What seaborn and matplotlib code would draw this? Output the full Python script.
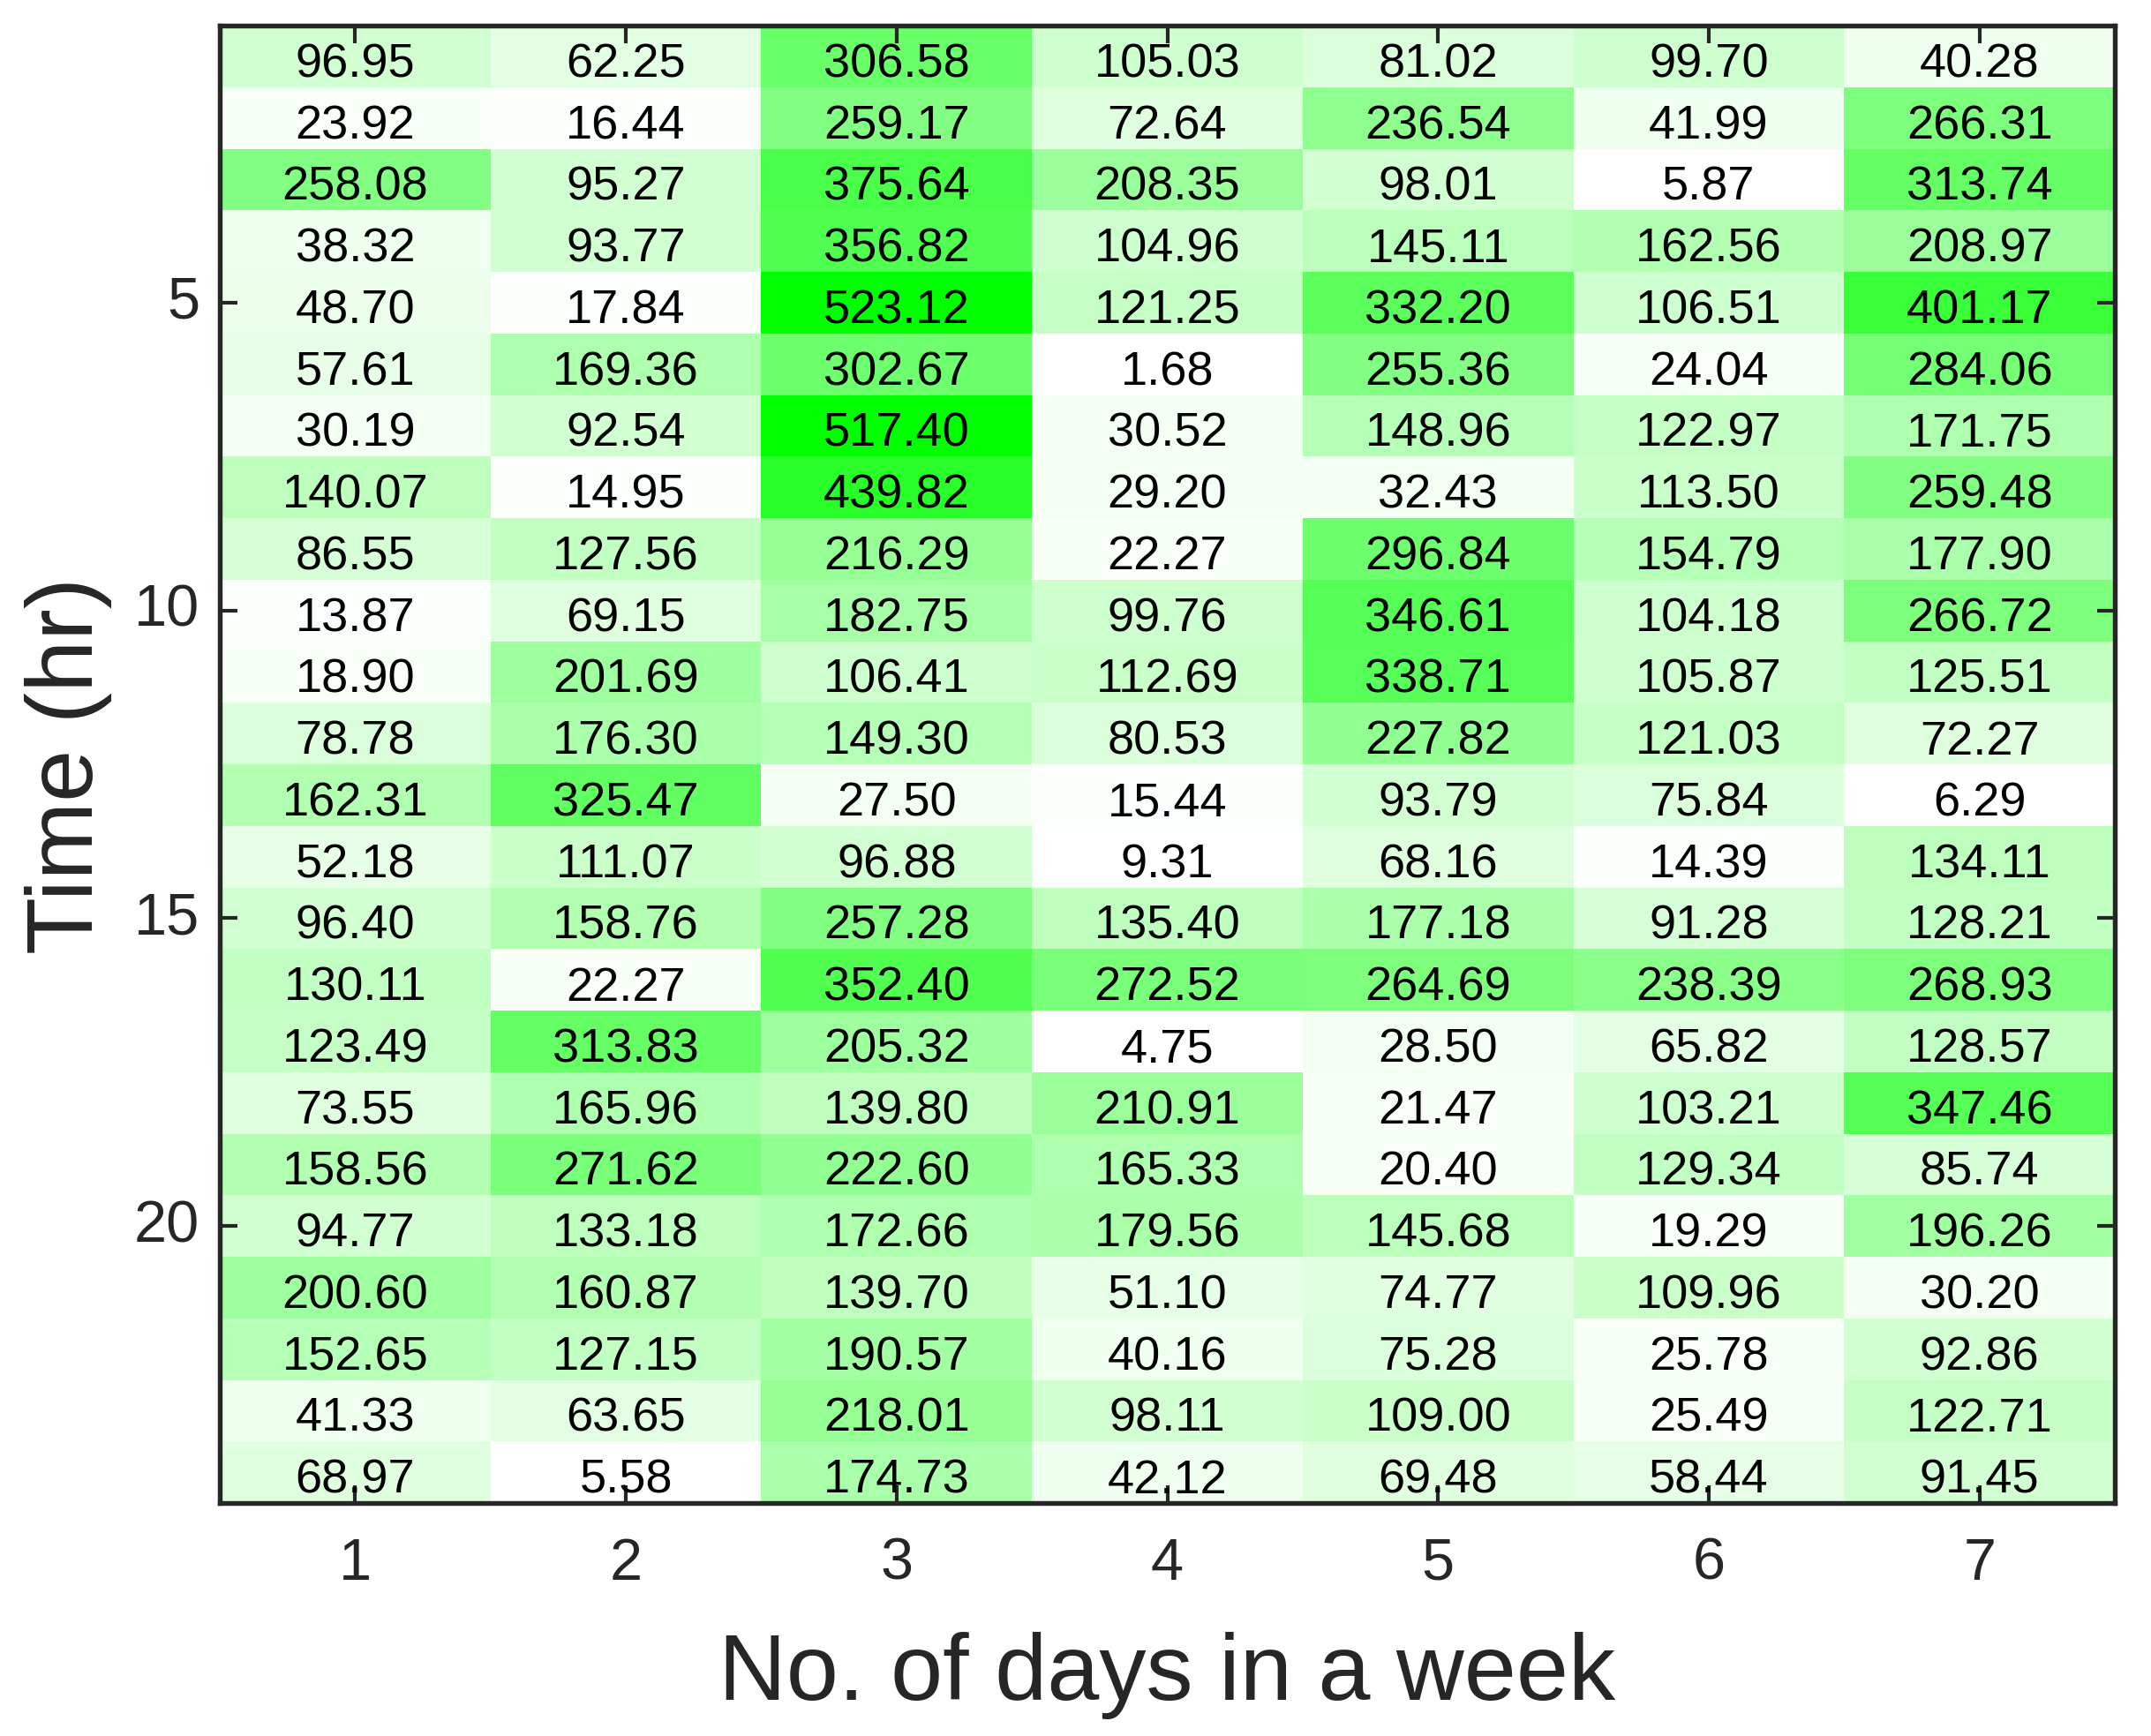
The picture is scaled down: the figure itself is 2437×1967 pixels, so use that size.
import numpy as np
import pandas as pd
import matplotlib
matplotlib.use("Agg")
import matplotlib.pyplot as plt
import matplotlib.transforms as mtransforms
import seaborn as sns
from matplotlib.colors import LinearSegmentedColormap

days = [1, 2, 3, 4, 5, 6, 7]
hours = list(range(1, 25))
ytick_hours = [5, 10, 15, 20]

day1 = [96.95, 23.92, 258.08, 38.32, 48.70, 57.61, 30.19, 140.07, 86.55, 13.87, 18.90, 78.78,
        162.31, 52.18, 96.40, 130.11, 123.49, 73.55, 158.56, 94.77, 200.60, 152.65, 41.33, 68.97]
day2 = [62.25, 16.44, 95.27, 93.77, 17.84, 169.36, 92.54, 14.95, 127.56, 69.15, 201.69, 176.30,
        325.47, 111.07, 158.76, 22.27, 313.83, 165.96, 271.62, 133.18, 160.87, 127.15, 63.65, 5.58]
day3 = [306.58, 259.17, 375.64, 356.82, 523.12, 302.67, 517.40, 439.82, 216.29, 182.75, 106.41, 149.30,
        27.50, 96.88, 257.28, 352.40, 205.32, 139.80, 222.60, 172.66, 139.70, 190.57, 218.01, 174.73]
day4 = [105.03, 72.64, 208.35, 104.96, 121.25, 1.68, 30.52, 29.20, 22.27, 99.76, 112.69, 80.53,
        15.44, 9.31, 135.40, 272.52, 4.75, 210.91, 165.33, 179.56, 51.10, 40.16, 98.11, 42.12]
day5 = [81.02, 236.54, 98.01, 145.11, 332.20, 255.36, 148.96, 32.43, 296.84, 346.61, 338.71, 227.82,
        93.79, 68.16, 177.18, 264.69, 28.50, 21.47, 20.40, 145.68, 74.77, 75.28, 109.00, 69.48]
day6 = [99.70, 41.99, 5.87, 162.56, 106.51, 24.04, 122.97, 113.50, 154.79, 104.18, 105.87, 121.03,
        75.84, 14.39, 91.28, 238.39, 65.82, 103.21, 129.34, 19.29, 109.96, 25.78, 25.49, 58.44]
day7 = [40.28, 266.31, 313.74, 208.97, 401.17, 284.06, 171.75, 259.48, 177.90, 266.72, 125.51, 72.27,
        6.29, 134.11, 128.21, 268.93, 128.57, 347.46, 85.74, 196.26, 30.20, 92.86, 122.71, 91.45]

df = pd.DataFrame({1: day1, 2: day2, 3: day3, 4: day4, 5: day5, 6: day6, 7: day7}, index=hours)

plt.rcParams['font.family'] = ['Liberation Sans', 'DejaVu Sans']
dark = '#262626'

cmap = LinearSegmentedColormap.from_list('wg', ['#FFFFFF', '#00FF00'], N=64)

fig = plt.figure(figsize=(2437 / 300, 1968 / 300), dpi=300)
ax = fig.add_axes([0.1022, 0.1341, 0.881, 0.8506])

sns.heatmap(df, ax=ax, cmap=cmap, cbar=False, annot=True, fmt='.2f',
            annot_kws={'fontsize': 13, 'color': 'black'}, linewidths=0,
            vmin=float(np.min(df.values)), vmax=float(np.max(df.values)))

# MATLAB-style text sits slightly below the cell centre
shift = mtransforms.ScaledTranslation(0, -2.0 / 72, fig.dpi_scale_trans)
for t in ax.texts:
    t.set_transform(t.get_transform() + shift)

ax.set_xticks(np.arange(len(days)) + 0.5)
ax.set_xticklabels([str(d) for d in days], rotation=0)
ax.set_yticks([hours.index(h) + 0.5 for h in ytick_hours])
ax.set_yticklabels([str(h) for h in ytick_hours], rotation=0)

ax.tick_params(axis='both', direction='in', length=4.8, width=1.0, color=dark,
               labelsize=16, labelcolor=dark, top=True, right=True,
               labeltop=False, labelright=False)
ax.tick_params(axis='x', pad=9)
ax.tick_params(axis='y', pad=5.5)

for s in ax.spines.values():
    s.set_visible(True)
    s.set_linewidth(1.3)
    s.set_color(dark)

ax.set_xlabel('No. of days in a week', fontsize=25.5, color=dark, labelpad=11)
ax.set_ylabel('Time (hr)', fontsize=25.5, color=dark, labelpad=6)

fig.savefig('out.png', dpi=300, facecolor='white')
